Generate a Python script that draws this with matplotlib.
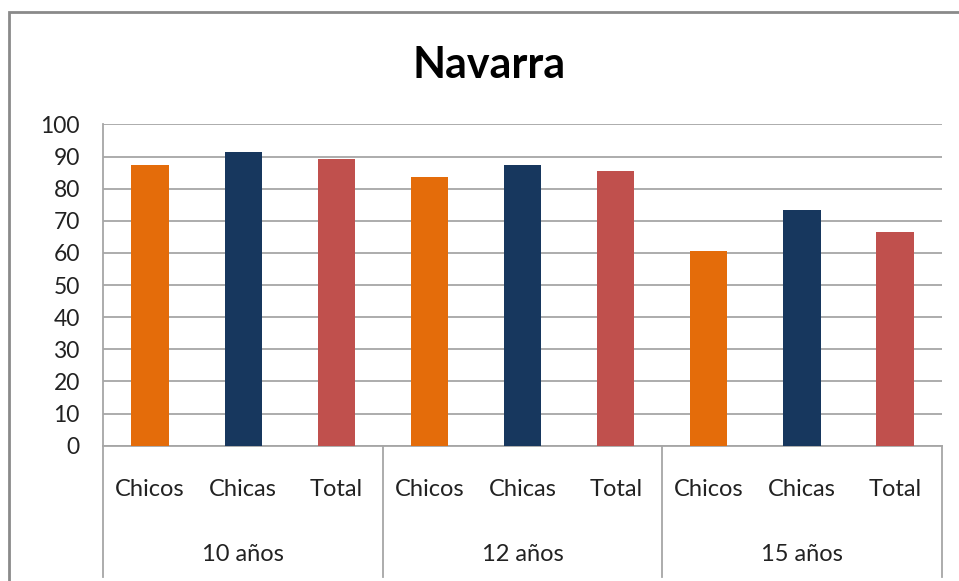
import numpy as np
import matplotlib.pyplot as plt
from matplotlib.patches import Rectangle
import matplotlib.transforms as mtransforms

# data
groups = ["10 años", "12 años", "15 años"]
categories = ["Chicos", "Chicas", "Total"]
values = [
    [87.3, 91.3, 89.3],
    [83.7, 87.3, 85.4],
    [60.5, 73.3, 66.5],
]
colors = ["#E46C0A", "#17375E", "#C0504D"]
yticks = list(range(0, 101, 10))

plt.rcParams['font.family'] = ['Lato', 'DejaVu Sans']

fig = plt.figure(figsize=(9.59, 5.81), dpi=100)
ax = fig.add_axes([0.1079, 0.2329, 0.874, 0.553])

# outer chart frame (runs off the right and bottom edges)
fig.patches.append(Rectangle((8.5 / 959, -0.05), 1.1, 1 - 12 / 581 + 0.05,
                             transform=fig.transFigure, fill=False,
                             edgecolor="#8a8a8a", lw=2.0, zorder=0))

n_cat = len(categories)
x = 0
for g, vals in enumerate(values):
    for c, v in enumerate(vals):
        ax.bar(x, v, width=0.40, color=colors[c], zorder=3)
        x += 1
n_total = x

ax.set_xlim(-0.5, n_total - 0.5)
ax.set_ylim(0, 100)
ax.set_yticks(yticks)
ax.set_yticklabels([str(t) for t in yticks], fontsize=16.5, color="#222222")
ax.tick_params(axis='y', length=0, pad=17)
ax.set_xticks([])
ax.yaxis.grid(True, color="#a6a6a6", lw=1.3, zorder=0)
ax.set_axisbelow(True)

for s in ["top", "right"]:
    ax.spines[s].set_visible(False)
for s in ["left", "bottom"]:
    ax.spines[s].set_color("#a6a6a6")
    ax.spines[s].set_linewidth(1.3)

# multi-level category axis
trans = mtransforms.blended_transform_factory(ax.transData, ax.transAxes)
for b in np.arange(0, len(groups) + 1) * n_cat - 0.5:
    ax.plot([b, b], [0, -0.4085], transform=trans, color="#a6a6a6",
            lw=1.3, clip_on=False)

x = 0
for g, name in enumerate(groups):
    for c, cat in enumerate(categories):
        ax.text(x, -0.137, cat, transform=trans, ha="center", va="center",
                fontsize=17, color="#222222")
        x += 1
    ax.text(g * n_cat + (n_cat - 1) / 2, -0.338, name, transform=trans,
            ha="center", va="center", fontsize=17, color="#222222")

fig.text(0.5 * (412 + 566) / 959, 1 - 65 / 581, "Navarra", ha="center",
         va="center", fontsize=31, fontweight="bold", color="black")

fig.savefig("out.png", dpi=100)
